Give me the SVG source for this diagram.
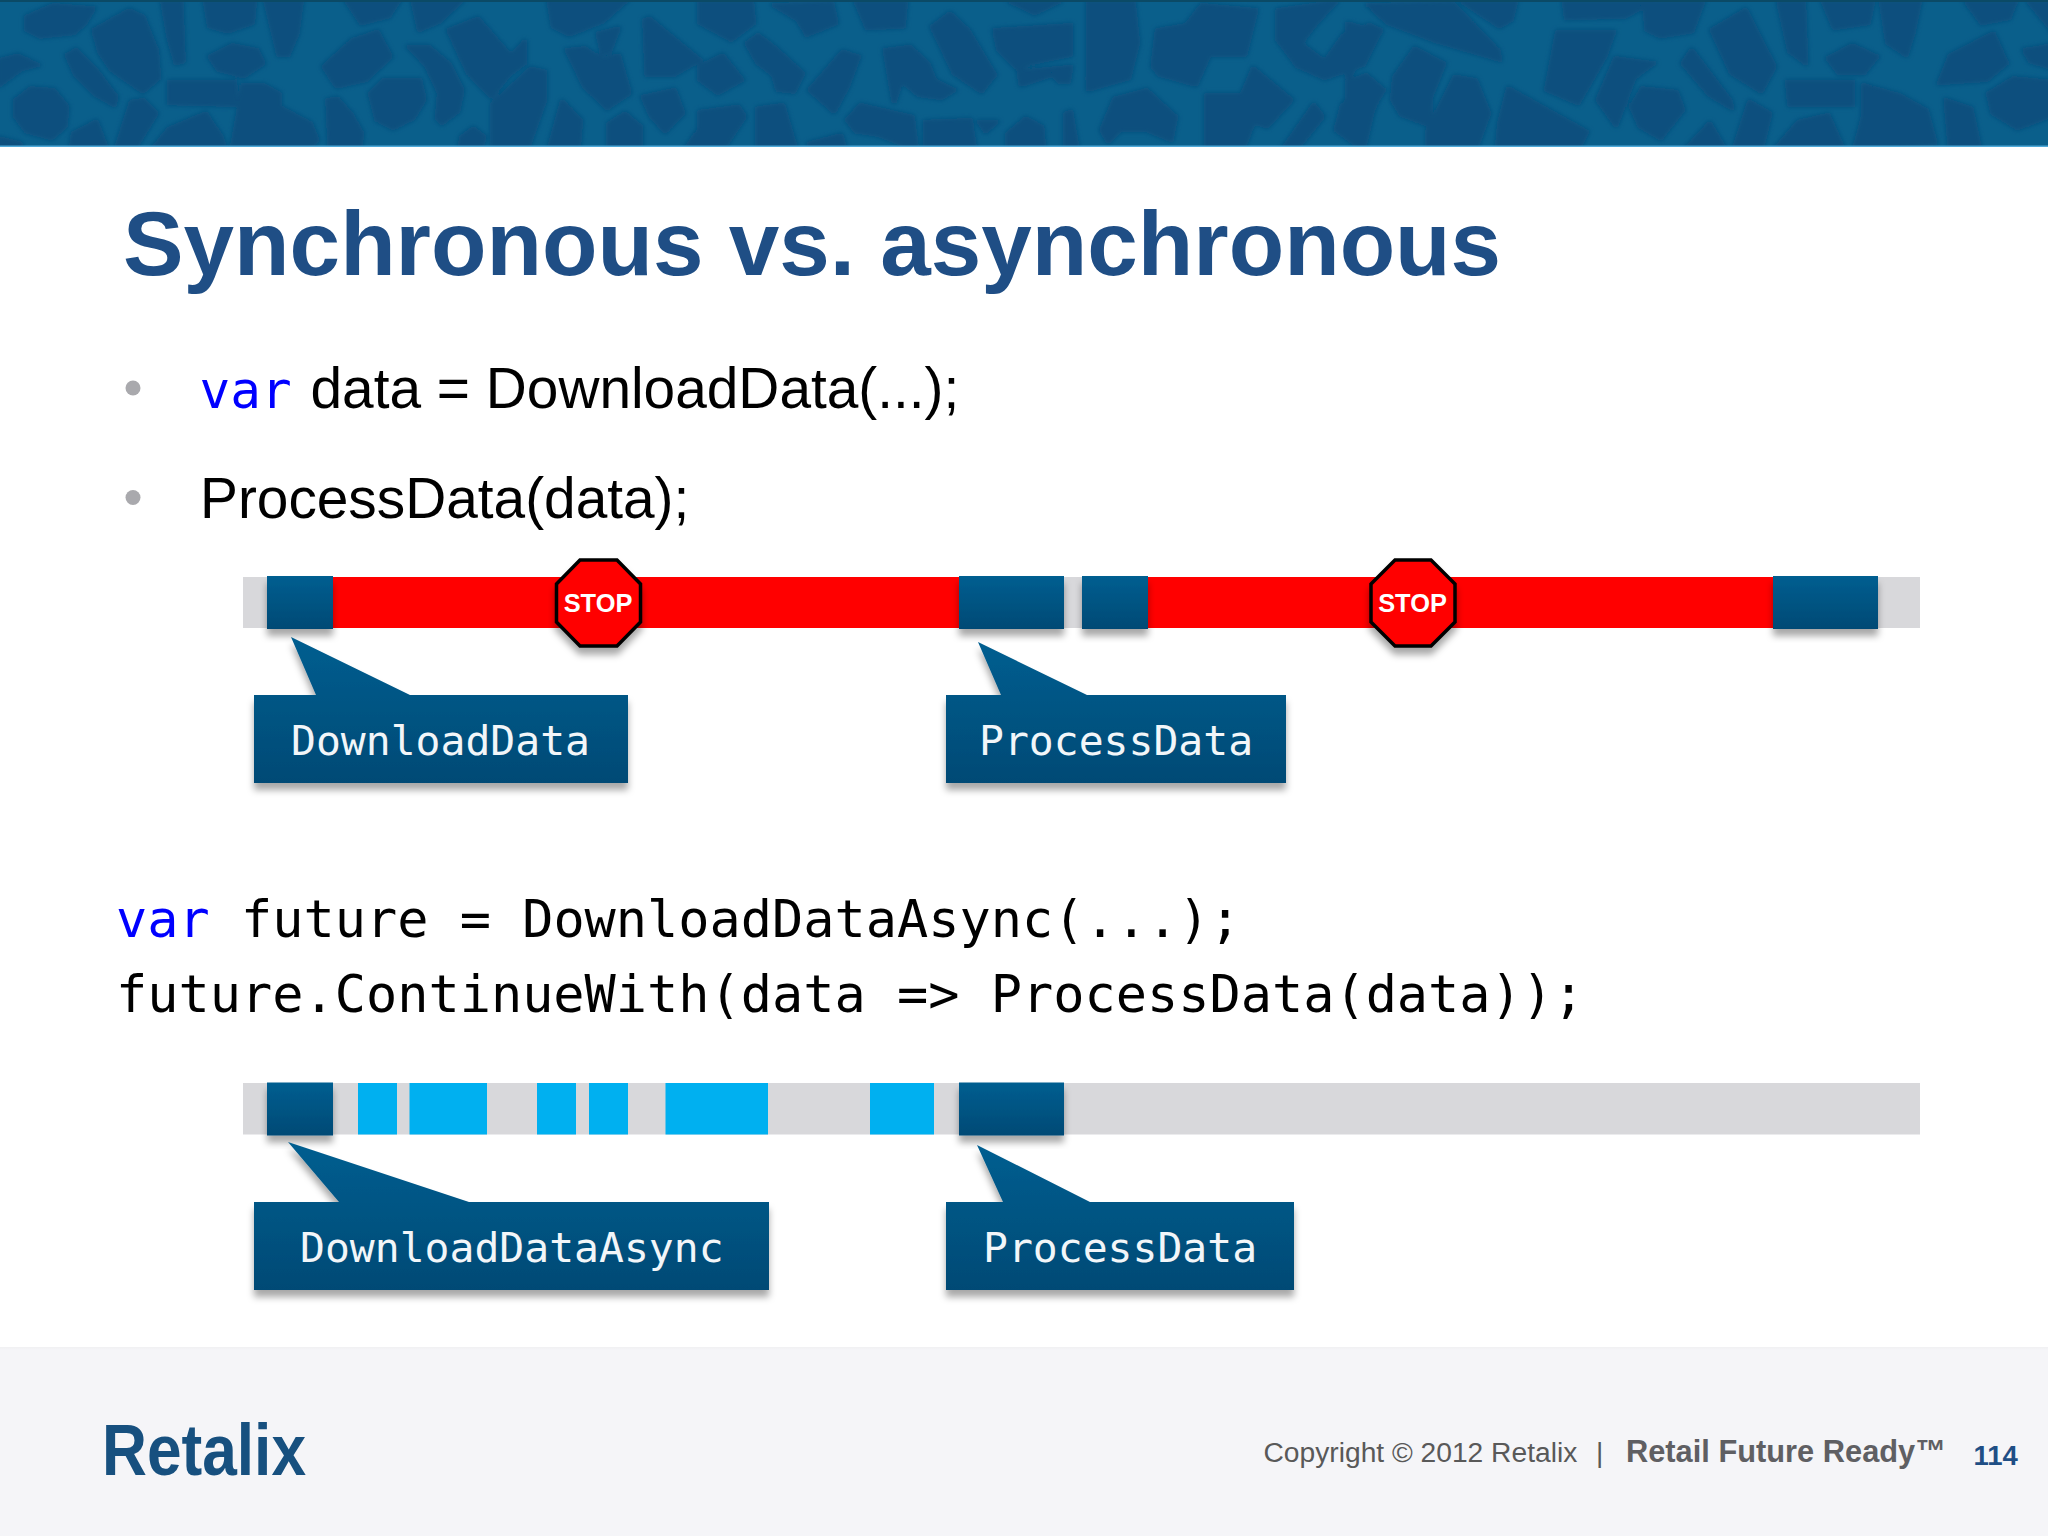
<svg xmlns="http://www.w3.org/2000/svg" width="2048" height="1536" viewBox="0 0 2048 1536">
<defs>
<linearGradient id="blueGrad" x1="0" y1="0" x2="0" y2="1"><stop offset="0" stop-color="#005e90"/><stop offset="1" stop-color="#004a75"/></linearGradient>
<linearGradient id="footGrad" x1="0" y1="0" x2="0" y2="1"><stop offset="0" stop-color="#f0f0f2"/><stop offset="1" stop-color="#f5f5f8"/></linearGradient>
<filter id="shadow" x="-10%" y="-10%" width="120%" height="135%"><feDropShadow dx="0" dy="7" stdDeviation="3.500" flood-color="#000" flood-opacity="0.34"/></filter>
<filter id="soft" x="-2%" y="-5%" width="104%" height="110%"><feGaussianBlur stdDeviation="2"/></filter>
<clipPath id="bannerClip"><rect x="0" y="0" width="2048" height="147"/></clipPath>
</defs>
<style>
.blob polygon{fill:#074f7e;stroke:#074f7e;stroke-width:15;stroke-linejoin:round}
.sans{font-family:"Liberation Sans",Arial,sans-serif}
.mono{font-family:"DejaVu Sans Mono","Liberation Mono",monospace}
.bar{fill:#d8d8db}
.red{fill:#ff0000}
.sky{fill:#00b0f0}
.block{fill:url(#blueGrad);filter:url(#shadow)}
.callout{fill:url(#blueGrad);filter:url(#shadow)}
.ctext{font-family:"DejaVu Sans Mono","Liberation Mono",monospace;font-size:41.4px;fill:#f2f6f9}
.stop{fill:#ff0000;stroke:#000;stroke-width:3.5;filter:url(#shadow)}
.stoptext{font-family:"Liberation Sans",Arial,sans-serif;font-weight:700;font-size:25.4px;fill:#fff;text-anchor:middle}
.code{font-family:"DejaVu Sans Mono","Liberation Mono",monospace;font-size:51.9px;fill:#000}
.kw{fill:#0000ff}
.body{font-family:"Liberation Sans",Arial,sans-serif;font-size:56.8px;fill:#000}
</style>
<rect width="2048" height="1536" fill="#fff"/>
<g id="banner" clip-path="url(#bannerClip)">
<rect width="2048" height="147" fill="#0a5f8b"/>
<g filter="url(#soft)">
<g class="blob" transform="scale(.4464,.3333)">
<polygon points="60,50 120,15 210,25 190,70 165,100 90,110 60,90"/><polygon points="210,90 290,30 320,50 350,150 355,235 320,275 250,210 225,160"/><polygon points="365,5 405,5 410,185 395,190 380,120"/><polygon points="460,0 570,0 565,70 510,95 470,80"/><polygon points="595,0 675,0 665,100 645,165 625,165 615,110"/><polygon points="470,170 520,135 575,150 590,190 545,230 490,210"/><polygon points="150,165 170,150 215,210 260,290 255,315 215,285 170,225"/><polygon points="0,180 40,165 85,195 45,210 0,255"/><polygon points="35,300 70,265 120,270 150,320 145,380 115,415 60,395 35,350"/><polygon points="380,245 525,245 525,315 380,310"/><polygon points="545,255 590,255 625,280 625,320 695,370 710,420 690,450 520,450 535,340"/><polygon points="295,305 320,300 350,340 300,450 260,450"/><polygon points="165,400 215,365 240,450 160,450"/><polygon points="340,450 380,385 460,340 495,410 505,450"/><polygon points="735,300 755,295 785,340 810,400 805,450 740,450"/><polygon points="725,200 790,120 845,95 875,170 820,240 755,260"/><polygon points="830,280 860,240 940,240 950,300 925,355 880,385 845,360"/><polygon points="915,140 960,140 1005,190 1035,270 1025,335 990,370 980,355 985,280 955,195"/><polygon points="1005,90 1070,55 1145,170 1175,125 1175,190 1140,225 1100,290 1050,220"/><polygon points="925,0 1035,0 985,65 940,90"/><polygon points="775,0 895,0 870,50 810,70"/><polygon points="1105,310 1190,205 1220,215 1220,300 1180,450 1105,450"/><polygon points="1230,450 1260,305 1300,360 1295,450"/><polygon points="1230,0 1405,0 1350,65 1275,105 1240,80"/><polygon points="1340,100 1385,85 1365,155 1350,160"/><polygon points="1270,150 1310,145 1350,180 1385,165 1410,280 1360,325 1310,260"/><polygon points="1445,60 1455,55 1568,180 1510,225 1450,225"/><polygon points="1440,290 1510,270 1530,340 1490,395 1460,350"/><polygon points="1365,370 1400,340 1435,380 1435,450 1365,450"/><polygon points="1035,410 1060,385 1085,410 1075,450 1030,450"/><polygon points="1535,450 1568,385 1580,450"/><polygon points="0,415 45,430 45,450 0,450"/>
</g>
<g class="blob" transform="translate(700,0) scale(.4464,.3333)">
<polygon points="0,5 115,5 120,70 70,120 0,70"/><polygon points="165,15 295,10 305,70 240,105 220,60"/><polygon points="350,5 460,5 455,80 375,85"/><polygon points="105,130 130,105 165,140 230,220 210,275 175,270 165,225 130,190"/><polygon points="0,200 50,165 95,240 40,280 0,240"/><polygon points="245,270 320,155 355,170 330,260 300,335"/><polygon points="415,150 470,140 510,190 525,240 570,270 540,295 490,285 450,240 435,305"/><polygon points="520,80 560,40 600,90 660,225 630,275 570,220"/><polygon points="660,90 830,75 830,165 740,190 710,205 670,150"/><polygon points="715,215 830,200 825,245 805,245 790,225 720,255"/><polygon points="695,5 805,5 750,40"/><polygon points="870,5 970,5 980,130 960,235 870,270"/><polygon points="1025,90 1090,75 1125,15 1245,30 1220,165 1140,165 1110,255 1030,225 1015,200"/><polygon points="1295,30 1425,5 1380,70 1345,130 1400,185 1445,100 1500,75 1525,90 1485,195 1400,235 1340,200 1295,120"/><polygon points="1135,285 1215,285 1240,205 1325,300 1270,380 1240,365 1215,450 1135,450"/><polygon points="900,390 930,295 1000,270 1065,350 1055,420 1000,390 940,390 915,425"/><polygon points="330,360 360,315 475,350 485,450 400,405 350,395"/><polygon points="505,365 605,360 615,450 505,450"/><polygon points="625,365 665,365 640,395"/><polygon points="690,400 730,355 765,380 770,450 690,450"/><polygon points="820,340 830,335 845,450 820,450"/><polygon points="0,335 85,320 100,350 50,450 0,450"/><polygon points="130,325 185,315 215,450 130,450"/><polygon points="245,430 315,405 325,450 245,450"/><polygon points="1305,450 1375,315 1395,350 1335,450"/><polygon points="1425,390 1440,315 1490,230 1525,270 1505,340 1485,450"/>
</g>
<g class="blob" transform="translate(1348,0) scale(.4464,.3333)">
<polygon points="45,15 235,10 335,150 340,180 200,125 90,70"/><polygon points="255,5 375,5 365,60 340,80"/><polygon points="0,70 55,90 35,160 0,235"/><polygon points="105,230 150,145 215,190 185,290 180,375 120,345 100,300"/><polygon points="0,245 40,225 80,270 40,355 0,395"/><polygon points="180,390 240,230 285,240 315,340 285,450 180,450"/><polygon points="340,370 360,265 535,395 515,450 335,450"/><polygon points="445,270 470,95 595,95 575,170 515,310"/><polygon points="485,5 685,5 620,50 490,55"/><polygon points="560,300 600,175 685,190 640,235 600,375"/><polygon points="635,320 660,265 735,275 750,330 700,415 655,380"/><polygon points="665,5 795,5 770,95 700,110 670,90"/><polygon points="815,90 890,30 955,200 925,275 860,220"/><polygon points="750,190 770,150 855,300 860,325 810,285"/><polygon points="965,5 1020,5 1025,190 990,155"/><polygon points="1065,5 1175,5 1165,70 1090,85"/><polygon points="1195,5 1280,5 1265,100 1250,165 1210,130"/><polygon points="1075,175 1130,135 1185,170 1155,220 1100,220"/><polygon points="985,245 1130,245 1130,315 990,315"/><polygon points="1155,255 1235,285 1295,330 1315,430 1135,450 1155,350"/><polygon points="865,450 900,305 945,340 925,450"/><polygon points="755,450 810,370 845,450"/><polygon points="955,450 1010,365 1075,345 1110,450"/><polygon points="1340,300 1395,325 1415,450 1350,450"/><polygon points="1325,250 1350,165 1445,100 1475,190 1430,240 1370,245"/><polygon points="1435,280 1490,235 1580,245 1580,345 1500,385 1445,340"/><polygon points="1515,150 1580,135 1580,205 1530,185"/><polygon points="1385,5 1495,5 1480,55 1420,70"/><polygon points="1525,5 1580,5 1580,95"/>
</g>
</g>
<rect y="0" width="2048" height="2" fill="#0b4a66"/>
<rect y="145.500" width="2048" height="1.500" fill="#4fa9d8"/>
</g>
<rect id="footer-band" x="0" y="1349" width="2048" height="187" fill="#f5f5f8"/>
<rect x="0" y="1347" width="2048" height="3" fill="url(#footGrad)"/>
<text id="title" class="sans" x="123" y="275" font-size="90.850" font-weight="700" fill="#1f4e85">Synchronous vs. asynchronous</text>
<g id="bullets">
<circle cx="133" cy="388" r="7.500" fill="#a9a9ad"/>
<circle cx="133" cy="497.500" r="7.500" fill="#a9a9ad"/>
<text class="mono kw" x="199.500" y="408" font-size="51">var</text>
<text class="body" x="310.500" y="408">data = DownloadData(...);</text>
<text class="body" x="200" y="518">ProcessData(data);</text>
</g>
<g id="timeline-sync">
<rect class="bar" x="243" y="577" width="1677" height="51"/>
<rect class="red" x="333" y="577" width="626" height="51"/>
<rect class="red" x="1148" y="577" width="625" height="51"/>
<rect class="block" x="267" y="576" width="66" height="53"/>
<rect class="block" x="959" y="576" width="105" height="53"/>
<rect class="block" x="1082" y="576" width="66" height="53"/>
<rect class="block" x="1773" y="576" width="105" height="53"/>
</g>
<g id="stop-1">
<polygon class="stop" points="580,560 617,560 640.500,584 640.500,622 617,646 580,646 556.500,622 556.500,584"/>
<text class="stoptext" x="598" y="611.500">STOP</text>
</g>
<g id="stop-2">
<polygon class="stop" points="1395,560 1431,560 1455,584 1455,622 1431,646 1395,646 1371,622 1371,584"/>
<text class="stoptext" x="1412.500" y="611.500">STOP</text>
</g>
<g id="callout-downloaddata">
<path class="callout" d="M291,637 L410,695 H628 V783 H254 V695 H316 Z"/>
<text class="ctext" x="291" y="755">DownloadData</text>
</g>
<g id="callout-processdata-1">
<path class="callout" d="M978,642 L1087,695 H1286 V783 H946 V695 H1001 Z"/>
<text class="ctext" x="979" y="755">ProcessData</text>
</g>
<g id="code">
<text class="code" x="116" y="937"><tspan class="kw">var</tspan> future = DownloadDataAsync(...);</text>
<text class="code" x="116" y="1012">future.ContinueWith(data =&gt; ProcessData(data));</text>
</g>
<g id="timeline-async">
<rect class="bar" x="243" y="1083" width="1677" height="51.500"/>
<rect class="sky" x="358" y="1083" width="39" height="51.500"/>
<rect class="sky" x="409.500" y="1083" width="77.500" height="51.500"/>
<rect class="sky" x="537" y="1083" width="39" height="51.500"/>
<rect class="sky" x="589" y="1083" width="39" height="51.500"/>
<rect class="sky" x="665.500" y="1083" width="102.500" height="51.500"/>
<rect class="sky" x="870" y="1083" width="64" height="51.500"/>
<rect class="block" x="267" y="1082.500" width="66" height="53"/>
<rect class="block" x="959" y="1082.500" width="105" height="53"/>
</g>
<g id="callout-downloaddataasync">
<path class="callout" d="M288,1142 L469,1202 H769 V1290 H254 V1202 H339 Z"/>
<text class="ctext" x="300" y="1262">DownloadDataAsync</text>
</g>
<g id="callout-processdata-2">
<path class="callout" d="M977,1145 L1090,1202 H1294 V1290 H946 V1202 H1003 Z"/>
<text class="ctext" x="983" y="1262">ProcessData</text>
</g>
<g id="footer">
<text class="sans" x="102" y="1475" font-size="72" font-weight="700" fill="#17507f" textLength="204" lengthAdjust="spacingAndGlyphs">Retalix</text>
<text class="sans" x="1263.500" y="1462" font-size="28.200" fill="#595959">Copyright © 2012 Retalix</text>
<text class="sans" x="1596" y="1462" font-size="28.200" fill="#595959">|</text>
<text class="sans" x="1626" y="1462" font-size="32" font-weight="700" fill="#5f5f63" textLength="320" lengthAdjust="spacingAndGlyphs">Retail Future Ready™</text>
<text class="sans" x="1973.500" y="1465" font-size="27.500" font-weight="700" fill="#1f4e85">114</text>
</g>
</svg>
